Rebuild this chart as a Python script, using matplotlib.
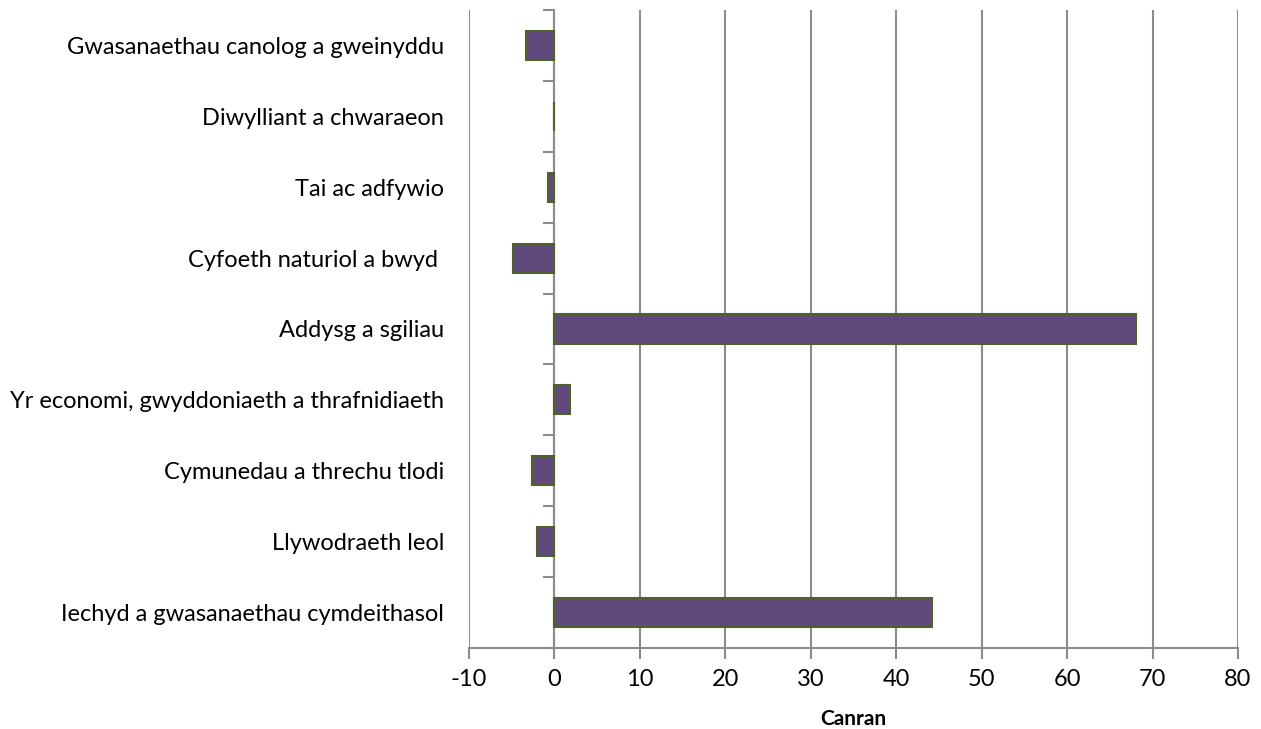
import matplotlib
matplotlib.use("Agg")
import matplotlib.pyplot as plt
import numpy as np

plt.rcParams['font.family'] = ['Lato', 'DejaVu Sans']

categories = [
    "Iechyd a gwasanaethau cymdeithasol",
    "Llywodraeth leol",
    "Cymunedau a threchu tlodi",
    "Yr economi, gwyddoniaeth a thrafnidiaeth",
    "Addysg a sgiliau",
    "Cyfoeth naturiol a bwyd ",
    "Tai ac adfywio",
    "Diwylliant a chwaraeon",
    "Gwasanaethau canolog a gweinyddu",
]
values = [44.2, -2.1, -2.6, 1.8, 68.1, -4.9, -0.7, -0.1, -3.3]
x_ticks = [-10, 0, 10, 20, 30, 40, 50, 60, 70, 80]
x_label = "Canran"

fig = plt.figure(figsize=(12.61, 7.29), dpi=100)
ax = fig.add_axes([469/1261, 1-648/729, (1238-469)/1261, (648-10)/729])

grid_c = "#8c8c8c"
y = np.arange(len(categories))
ax.barh(y, values, height=0.41, color="#604A7B", edgecolor="#4F6228", linewidth=1.5, zorder=3)

ax.set_xlim(-10, 80)
ax.set_ylim(-0.5, len(categories) - 0.5)
ax.set_xticks(x_ticks)
ax.set_xticklabels([str(t) for t in x_ticks], fontsize=17)
ax.xaxis.grid(True, color=grid_c, linewidth=1.5, zorder=0)
ax.set_axisbelow(True)

ax.set_yticks(y)
ax.set_yticklabels(categories, fontsize=17)
ax.tick_params(axis='y', length=0, pad=18)
ax.tick_params(axis='x', length=8, width=1.5, color=grid_c, pad=7)

for s in ['top', 'right', 'left']:
    ax.spines[s].set_visible(False)
ax.spines['bottom'].set_color(grid_c)
ax.spines['bottom'].set_linewidth(1.5)

# vertical category axis at x = 0
pos0 = (0 - (-10)) / 90
sec = ax.secondary_yaxis(pos0)
sec.set_yticks(np.arange(-0.5, len(categories), 1.0))
sec.set_yticklabels([])
sec.tick_params(length=8, width=1.5, color=grid_c, direction='out')
sec.spines['left'].set_color(grid_c)
sec.spines['left'].set_linewidth(1.5)
sec.spines['left'].set_zorder(4)

ax.set_xlabel(x_label, fontsize=15, fontweight='bold', labelpad=14)

fig.savefig("out.png", dpi=100)
